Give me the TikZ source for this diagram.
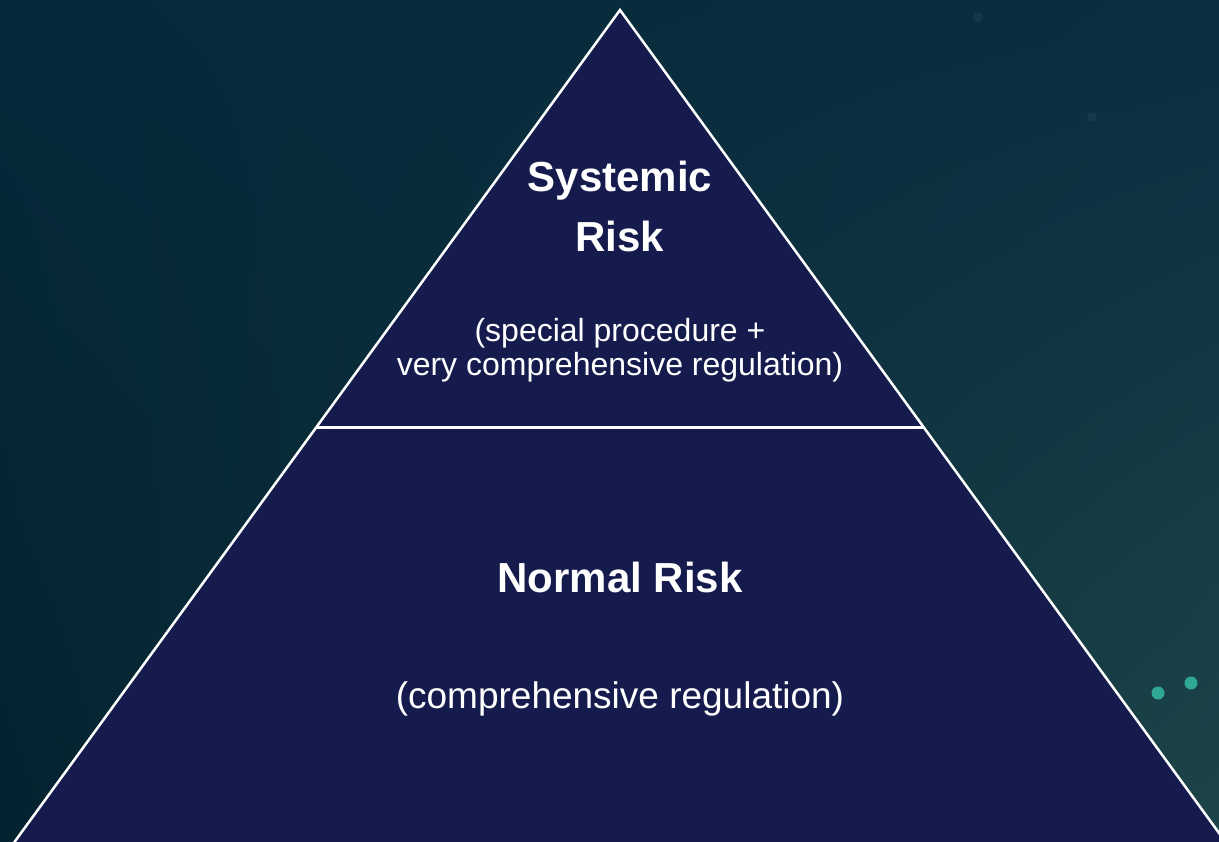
\documentclass[tikz,border=0pt]{standalone}
\usepackage{fontspec}
\setmainfont{Liberation Sans}
\usetikzlibrary{shadings}
\definecolor{bgUL}{HTML}{062A3A}
\definecolor{bgUR}{HTML}{0B2E40}
\definecolor{bgLL}{HTML}{03222F}
\definecolor{bgLR}{HTML}{1D4548}
\definecolor{pyr}{HTML}{151C4D}
\definecolor{dot}{HTML}{2FA894}
\definecolor{faintdot}{HTML}{15394B}
\tikzset{
  title/.style={text=white, font=\fontsize{42}{46}\selectfont\bfseries, anchor=base, inner sep=0pt},
  subsmall/.style={text=white, font=\fontsize{32}{35}\selectfont, anchor=base, inner sep=0pt},
  sublarge/.style={text=white, font=\fontsize{37}{41}\selectfont, anchor=base, inner sep=0pt},
  edge/.style={draw=white, line width=2.5pt, line join=miter},
}
\begin{document}
\begin{tikzpicture}[x=1pt,y=-1pt]
\useasboundingbox (0,0) rectangle (1219,842);
\clip (0,0) rectangle (1219,842);
\shade[upper left=bgUL, upper right=bgUR, lower left=bgLL, lower right=bgLR] (0,0) rectangle (1219,842);
\fill[faintdot] (978,17) circle (5);
\fill[faintdot] (1092,117) circle (5);
\fill[dot] (1158,693) circle (6.5);
\fill[dot] (1191,683) circle (6.5);
\coordinate (apex) at (620,10);
\coordinate (bl) at (5,855);
\coordinate (br) at (1235,855);
\coordinate (sl) at (316.4,427);
\coordinate (sr) at (923.6,427);
\fill[pyr] (apex) -- (bl) -- (br) -- cycle;
\draw[edge] (bl) -- (apex) -- (br);
\draw[draw=white, line width=3pt] (sl) -- (sr);
\node[title] (t1) at (620,192) {Systemic};
\node[title] (t2) at (620,252) {Risk};
\node[subsmall] (s1) at (620,342) {(special procedure +};
\node[subsmall] (s2) at (620,376) {very comprehensive regulation)};
\node[title] (t3) at (620,592) {Normal Risk};
\node[sublarge] (s3) at (620,708) {(comprehensive regulation)};
\end{tikzpicture}
\end{document}
